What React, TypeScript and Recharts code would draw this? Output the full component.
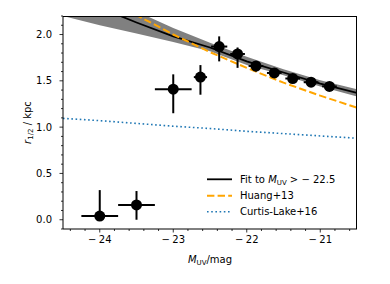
import { ComposedChart, XAxis, YAxis, Area, Line, Scatter, ErrorBar, Legend, Label } from 'recharts';

const FONT = '"DejaVu Sans", sans-serif';

// binned galaxy sizes
const binMag = [-24.0, -23.5, -23.0, -22.63, -22.375, -22.125, -21.875, -21.625, -21.375, -21.125, -20.875];
const binRadius = [0.04, 0.16, 1.41, 1.54, 1.87, 1.79, 1.66, 1.585, 1.525, 1.485, 1.44];
const binRadiusErrLo = [0.04, 0.16, 0.26, 0.19, 0.16, 0.15, 0.06, 0.05, 0.05, 0.05, 0.05];
const binRadiusErrHi = [0.28, 0.15, 0.16, 0.13, 0.11, 0.07, 0.05, 0.05, 0.05, 0.04, 0.04];
const binMagErr = [0.25, 0.25, 0.25, 0.09, 0.11, 0.1, 0.1, 0.1, 0.1, 0.1, 0.1];

// relations
const curveMag = [-24.5, -24, -23.5, -23, -22.5, -22, -21.5, -21, -20.5];
const fitRadius = [2.47, 2.29, 2.13, 1.98, 1.86, 1.71, 1.59, 1.47, 1.37];
const fitLower = [2.2, 2.1, 2.01, 1.92, 1.82, 1.67, 1.56, 1.44, 1.33];
const fitUpper = [2.75, 2.5, 2.25, 2.07, 1.91, 1.76, 1.625, 1.505, 1.41];
const huangRadius = [2.7, 2.44, 2.21, 2.0, 1.81, 1.64, 1.48, 1.34, 1.21];
const curtisLakeRadius = [1.095, 1.07, 1.04, 1.01, 0.985, 0.955, 0.93, 0.905, 0.88];

const xTicks = [-24.4, -24.2, -24, -23.8, -23.6, -23.4, -23.2, -23, -22.8, -22.6, -22.4, -22.2, -22, -21.8, -21.6, -21.4, -21.2, -21, -20.8, -20.6];
const yTicks = [-0.1, 0, 0.1, 0.2, 0.3, 0.4, 0.5, 0.6, 0.7, 0.8, 0.9, 1.0, 1.1, 1.2, 1.3, 1.4, 1.5, 1.6, 1.7, 1.8, 1.9, 2.0, 2.1, 2.2];

const curveData = curveMag.map((m, i) => ({
  m,
  fit: fitRadius[i],
  band: [fitLower[i], fitUpper[i]],
  huang: huangRadius[i],
  cl: curtisLakeRadius[i],
}));

const points = binMag.map((m, i) => ({
  m,
  r: binRadius[i],
  ex: binMagErr[i],
  ey: [binRadiusErrLo[i], binRadiusErrHi[i]],
}));

const XTick = ({ x, y, payload }: any) => {
  const v = payload.value;
  const major = Math.abs(v - Math.round(v)) < 1e-6;
  return (
    <g>
      <line x1={x} x2={x} y1={y} y2={y + (major ? 3.5 : 2)} stroke="#000" strokeWidth={0.8} />
      {major && (
        <text x={x} y={y + 7} dy="0.71em" textAnchor="middle" fontSize={10} fontFamily={FONT} fill="#000">
          <tspan>{v < 0 ? '\u2212' : ''}</tspan>
          <tspan dx={2.5}>{Math.abs(Math.round(v))}</tspan>
        </text>
      )}
    </g>
  );
};

const YTick = ({ x, y, payload }: any) => {
  const v = payload.value;
  const major = Math.abs(v * 2 - Math.round(v * 2)) < 1e-6;
  return (
    <g>
      <line x1={x - (major ? 3.5 : 2)} x2={x} y1={y} y2={y} stroke="#000" strokeWidth={0.8} />
      {major && (
        <text x={x - 11} y={y} dy="0.35em" textAnchor="end" fontSize={10} fontFamily={FONT} fill="#000">
          {v.toFixed(1)}
        </text>
      )}
    </g>
  );
};

const LegendBox = () => (
  <svg width={160} height={54} style={{ display: 'block' }}>
    <line x1={7} x2={32} y1={11.3} y2={11.3} stroke="#000" strokeWidth={1.8} />
    <text x={40} y={11.3} dy="0.35em" fontSize={10} fontFamily={FONT} fill="#000">
      <tspan>Fit to </tspan>
      <tspan fontStyle="italic">M</tspan>
      <tspan fontSize={7} dy={2}>UV</tspan>
      <tspan dy={-2}>{' > \u2212 22.5'}</tspan>
    </text>
    <line x1={7} x2={32} y1={27.7} y2={27.7} stroke="#FFA500" strokeWidth={2} strokeDasharray="7.4 3.2" />
    <text x={40} y={27.7} dy="0.35em" fontSize={10} fontFamily={FONT} fill="#000">Huang+13</text>
    <line x1={7} x2={32} y1={43.7} y2={43.7} stroke="#1f77b4" strokeWidth={1.6} strokeDasharray="1.6 2.6" />
    <text x={40} y={43.7} dy="0.35em" fontSize={10} fontFamily={FONT} fill="#000">Curtis-Lake+16</text>
  </svg>
);

export default function App() {
  return (
    <div style={{ position: 'absolute', left: 0, top: 0, width: 390, height: 284, background: '#fff', fontFamily: FONT }}>
      <ComposedChart width={390} height={284} data={curveData} margin={{ top: 16, right: 33, bottom: 0, left: 0 }}>
        <XAxis
          dataKey="m"
          type="number"
          domain={[-24.5, -20.5]}
          allowDataOverflow
          ticks={xTicks}
          interval={0}
          tick={<XTick />}
          tickLine={false}
          tickSize={0}
          tickMargin={0}
          height={55}
          axisLine={{ stroke: '#000' }}
        >
          <Label
            content={() => (
              <text x={210} y={263} textAnchor="middle" fontSize={10} fontFamily={FONT} fill="#000">
                <tspan fontStyle="italic">M</tspan>
                <tspan fontSize={7} dy={2}>UV</tspan>
                <tspan dy={-2}>/mag</tspan>
              </text>
            )}
          />
        </XAxis>
        <YAxis
          type="number"
          domain={[-0.1, 2.2]}
          allowDataOverflow
          ticks={yTicks}
          interval={0}
          tick={<YTick />}
          tickLine={false}
          tickSize={0}
          tickMargin={0}
          width={63}
          axisLine={{ stroke: '#000' }}
        >
          <Label
            content={() => (
              <text x={31} y={122.5} transform="rotate(-90 31 122.5)" textAnchor="middle" fontSize={10} fontFamily={FONT} fill="#000">
                <tspan fontStyle="italic">r</tspan>
                <tspan fontSize={7} dy={2}>1/2</tspan>
                <tspan dy={-2}>{' / kpc'}</tspan>
              </text>
            )}
          />
        </YAxis>
        <Area dataKey="band" type="linear" fill="#808080" fillOpacity={1} stroke="none" isAnimationActive={false} />
        <Line dataKey="fit" type="linear" stroke="#000" strokeWidth={1.8} dot={false} isAnimationActive={false} />
        <Line dataKey="huang" type="linear" stroke="#FFA500" strokeWidth={2} strokeDasharray="7.4 3.2" dot={false} isAnimationActive={false} />
        <Line dataKey="cl" type="linear" stroke="#1f77b4" strokeWidth={1.6} strokeDasharray="1.6 2.6" dot={false} isAnimationActive={false} />
        <Scatter
          data={points}
          dataKey="r"
          fill="#000"
          shape={(p: any) => <circle cx={p.cx} cy={p.cy} r={5.5} fill="#000" />}
          isAnimationActive={false}
        >
          <ErrorBar dataKey="ex" direction="x" width={0} stroke="#000" strokeWidth={2} />
          <ErrorBar dataKey="ey" direction="y" width={0} stroke="#000" strokeWidth={2} />
        </Scatter>
        <Legend
          layout="vertical"
          verticalAlign="middle"
          align="center"
          content={() => <LegendBox />}
          wrapperStyle={{ left: 200, top: 168, width: 160, height: 54 }}
        />
      </ComposedChart>
      {/* axes frame (top and right spines) */}
      <div
        style={{
          position: 'absolute',
          left: 63,
          top: 16,
          width: 294,
          height: 213,
          borderTop: '1px solid #000',
          borderRight: '1px solid #000',
          boxSizing: 'border-box',
          pointerEvents: 'none',
        }}
      />
    </div>
  );
}
